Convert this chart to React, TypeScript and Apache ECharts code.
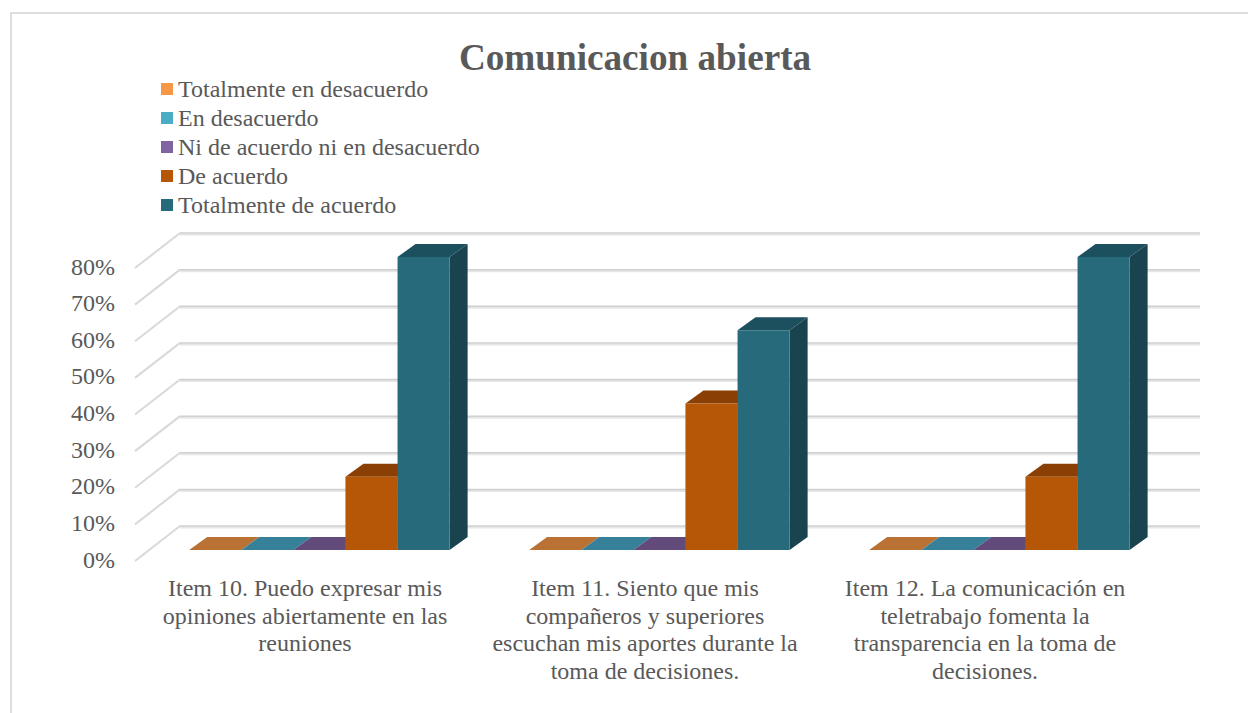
import React, { useEffect, useRef } from "react";
import * as echarts from "echarts";

const FONT = "'Liberation Serif', serif";
const TEXT = "#595959";

const categories = [
  "Item 10. Puedo expresar mis\nopiniones abiertamente en las\nreuniones",
  "Item 11. Siento que mis\ncompañeros y superiores\nescuchan mis aportes durante la\ntoma de decisiones.",
  "Item 12. La comunicación en\nteletrabajo fomenta la\ntransparencia en la toma de\ndecisiones.",
];
const seriesNames = [
  "Totalmente en desacuerdo",
  "En desacuerdo",
  "Ni de acuerdo ni en desacuerdo",
  "De acuerdo",
  "Totalmente de acuerdo",
];
const totalmenteEnDesacuerdo = [0, 0, 0];
const enDesacuerdo = [0, 0, 0];
const niDeAcuerdo = [0, 0, 0];
const deAcuerdo = [20, 40, 20];
const totalmenteDeAcuerdo = [80, 60, 80];
const seriesValues = [totalmenteEnDesacuerdo, enDesacuerdo, niDeAcuerdo, deAcuerdo, totalmenteDeAcuerdo];
const frontColors = ["#F79646", "#4BACC6", "#8064A2", "#B65708", "#276A7C"];
const topColors = ["#B97233", "#37809A", "#624A7A", "#8A4004", "#1D505E"];
const sideColors = ["#A85F20", "#2F6F85", "#54406B", "#7A3803", "#1A4350"];
const yTicks = [0, 10, 20, 30, 40, 50, 60, 70, 80];

const WALL_DX = 45;
const WALL_DY = 35;
const BAR_DX = 18;
const BAR_DY = 13;
const FLOOR_SHIFT_X = 14.4;
const FLOOR_SHIFT_Y = 11;

function renderWall(params: any, api: any) {
  const v = api.value(0);
  const bandW = api.size([1, 0])[0];
  const c0 = api.coord([0, v]);
  const x0 = c0[0] - bandW / 2;
  const y0 = c0[1];
  const x1 = x0 + bandW * categories.length;
  const mk = (shape: any, stroke: string, lineWidth: number) => ({
    type: "line",
    shape,
    style: { stroke, lineWidth, fill: "none" },
    silent: true,
  });
  return {
    type: "group",
    children: [
      mk({ x1: x0, y1: y0, x2: x0 + WALL_DX, y2: y0 - WALL_DY }, "#D9D9D9", 2),
      mk({ x1: x0 + WALL_DX, y1: y0 - WALL_DY + 1.5, x2: x1 + WALL_DX, y2: y0 - WALL_DY + 1.5 }, "#E6E6E6", 2),
      mk({ x1: x0 + WALL_DX, y1: y0 - WALL_DY, x2: x1 + WALL_DX, y2: y0 - WALL_DY }, "#CFCFCF", 1.5),
    ],
  };
}

function makeRenderBar(idx: number) {
  return (params: any, api: any) => {
    const cat = api.value(0);
    const val = api.value(1);
    const bandW = api.size([1, 0])[0];
    const c = api.coord([cat, val]);
    const base = api.coord([cat, 0]);
    const barW = bandW * 0.1532;
    const left = base[0] + FLOOR_SHIFT_X - (barW * seriesNames.length) / 2 + barW * idx;
    const right = left + barW;
    const yBase = base[1] - FLOOR_SHIFT_Y;
    const yTop = c[1] - FLOOR_SHIFT_Y;
    const top = {
      type: "polygon",
      shape: {
        points: [
          [left, yTop],
          [right, yTop],
          [right + BAR_DX, yTop - BAR_DY],
          [left + BAR_DX, yTop - BAR_DY],
        ],
      },
      style: { fill: topColors[idx] },
    };
    const side = {
      type: "polygon",
      shape: {
        points: [
          [right, yTop],
          [right + BAR_DX, yTop - BAR_DY],
          [right + BAR_DX, yBase - BAR_DY],
          [right, yBase],
        ],
      },
      style: { fill: sideColors[idx] },
    };
    const front = {
      type: "rect",
      shape: { x: left, y: yTop, width: barW, height: yBase - yTop },
      style: { fill: frontColors[idx] },
    };
    return { type: "group", children: val > 0 ? [top, side, front] : [top] };
  };
}

export default function App() {
  const ref = useRef<HTMLDivElement>(null);
  useEffect(() => {
    const chart = echarts.init(ref.current!, null, { renderer: "svg" });
    chart.setOption({
      animation: false,
      backgroundColor: "#FFFFFF",
      title: {
        text: "Comunicacion abierta",
        left: 630,
        top: 34,
        textAlign: "center",
        textStyle: { fontFamily: FONT, fontSize: 37.2, fontWeight: "bold", color: TEXT },
      },
      legend: {
        data: seriesNames,
        orient: "vertical",
        left: 156,
        top: 72,
        itemWidth: 12,
        itemHeight: 12,
        itemGap: 5,
        icon: "rect",
        selectedMode: false,
        textStyle: { fontFamily: FONT, fontSize: 24, color: TEXT, lineHeight: 22 },
      },
      grid: { left: 135, right: 93, top: 268, bottom: 152 },
      xAxis: {
        type: "category",
        data: categories,
        axisLine: { show: false },
        axisTick: { show: false },
        axisLabel: {
          interval: 0,
          margin: 13,
          fontFamily: FONT,
          fontSize: 24,
          lineHeight: 27.7,
          color: TEXT,
        },
      },
      yAxis: {
        type: "value",
        min: 0,
        max: 80,
        interval: 10,
        axisLine: { show: false },
        axisTick: { show: false },
        splitLine: { show: false },
        axisLabel: {
          formatter: "{value}%",
          margin: 20,
          fontFamily: FONT,
          fontSize: 24,
          color: TEXT,
          lineHeight: 3,
          verticalAlign: "bottom",
        },
      },
      series: [
        {
          type: "custom",
          name: "wall",
          silent: true,
          renderItem: renderWall,
          data: yTicks.map((v) => [v]),
          encode: { y: 0 },
        },
        ...seriesNames.map((name, i) => ({
          type: "custom",
          name,
          silent: true,
          itemStyle: { color: frontColors[i] },
          renderItem: makeRenderBar(i),
          data: seriesValues[i].map((v, c) => [c, v]),
          encode: { x: 0, y: 1 },
        })),
      ],
      graphic: [
        {
          type: "rect",
          silent: true,
          z: -1,
          shape: { x: 11, y: 13, width: 1300, height: 760 },
          style: { fill: "none", stroke: "#DDDDDD", lineWidth: 2 },
        },
      ],
    });
    return () => chart.dispose();
  }, []);
  return <div ref={ref} style={{ position: "absolute", left: 0, top: 0, width: 1248, height: 713 }} />;
}
